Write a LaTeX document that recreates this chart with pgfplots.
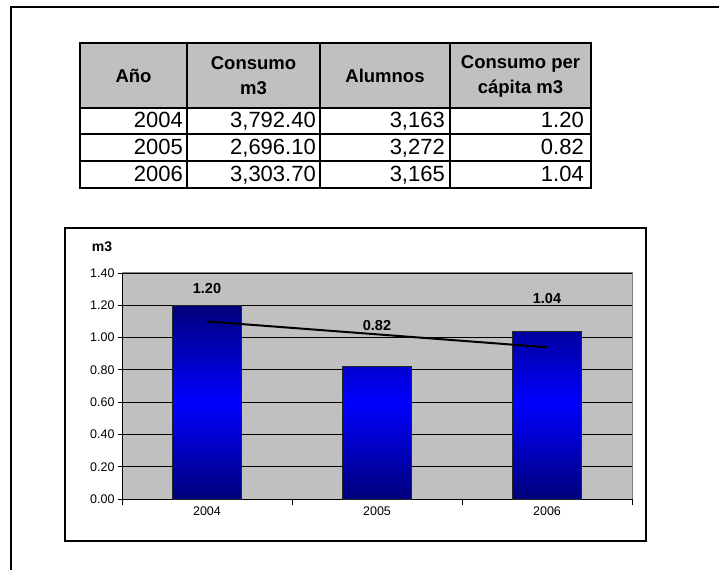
\documentclass[border=0pt]{standalone}
\usepackage{fontspec}
\setmainfont{Liberation Sans}
\usepackage{pgfplots}
\pgfplotsset{compat=1.18}
\definecolor{xlgray}{HTML}{C0C0C0}
\definecolor{xlnavy}{HTML}{00007C}
\definecolor{xlblue}{HTML}{0000FF}
\definecolor{xlborder}{HTML}{808080}
\begin{document}
\begin{tikzpicture}[x=1pt,y=1pt]
\useasboundingbox (0,0) rectangle (719,570);
% outer frame
\draw[line width=1.6pt] (11,0) -- (11,563) -- (719,563);
% table
\fill[xlgray] (80,462) rectangle (591,527);
\foreach \x in {187,320,450} \draw[line width=2pt] (\x,382) -- (\x,527);
\foreach \y in {462,435.5,409} \draw[line width=2pt] (80,\y) -- (591,\y);
\draw[line width=2.4pt] (80,382) rectangle (591,527);
\begin{scope}[every node/.style={font=\fontsize{18.5}{25}\selectfont\bfseries, align=center, inner sep=0pt}]
\node at (133.5,494) {Año};
\node at (253.5,494) {Consumo\\m3};
\node at (385,494) {Alumnos};
\node at (520.5,494) {Consumo per\\cápita m3};
\end{scope}
\begin{scope}[every node/.style={font=\fontsize{22}{26}\selectfont, anchor=base east, inner sep=0pt}]
\node at (183,442.7) {2004};
\node at (316,442.7) {3,792.40};
\node at (445,442.7) {3,163};
\node at (584,442.7) {1.20};
\node at (183,415) {2005};
\node at (316,415) {2,696.10};
\node at (445,415) {3,272};
\node at (584,415) {0.82};
\node at (183,388) {2006};
\node at (316,388) {3,303.70};
\node at (445,388) {3,165};
\node at (584,388) {1.04};
\end{scope}
% chart frame
\draw[line width=1.2pt] (65,29) rectangle (646,342);
\node[font=\fontsize{14}{16}\selectfont\bfseries, inner sep=0pt] at (102,323) {m3};
\begin{axis}[
  at={(122pt,71pt)}, anchor=south west,
  scale only axis, width=510pt, height=226pt,
  xmin=-0.5, xmax=2.5, ymin=0, ymax=1.4,
  axis x line*=bottom, axis y line*=left,
  axis line style={black, line width=0.9pt, -},
  axis background/.style={fill=xlgray},
  ytick={0,0.2,...,1.41},
  xtick={0,1,2}, xticklabels={2004,2005,2006},
  minor xtick={-0.5,0.5,1.5,2.5},
  major x tick style={draw=none},
  tick align=outside, major tick length=4pt, minor tick length=6pt,
  tick style={black, line width=0.8pt},
  ymajorgrids, major grid style={black, line width=0.8pt},
  /pgf/number format/.cd, fixed, fixed zerofill, precision=2, assume math mode=true,
  /pgfplots/.cd,
  ticklabel style={font=\fontsize{12.5}{14}\selectfont},
  clip=false,
]
\addplot[ybar, bar width=69pt, draw=black!85, line width=0.6pt,
  top color=xlnavy, bottom color=xlnavy, middle color=xlblue]
  coordinates {(0,1.20) (1,0.82) (2,1.04)};
\addplot[black, line width=2pt, mark=none] coordinates {(0,1.10) (2,0.94)};
\addplot[draw=none, mark=none, nodes near coords, point meta=explicit symbolic,
  nodes near coords style={font=\fontsize{14.5}{16}\selectfont\bfseries, anchor=center, inner sep=0pt}]
  coordinates {(0,1.301) [1.20] (1,1.072) [0.82] (2,1.245) [1.04]};
\draw[xlborder, line width=1pt] (rel axis cs:0,1) -- (rel axis cs:1,1) -- (rel axis cs:1,0);
\end{axis}
\end{tikzpicture}
\end{document}
